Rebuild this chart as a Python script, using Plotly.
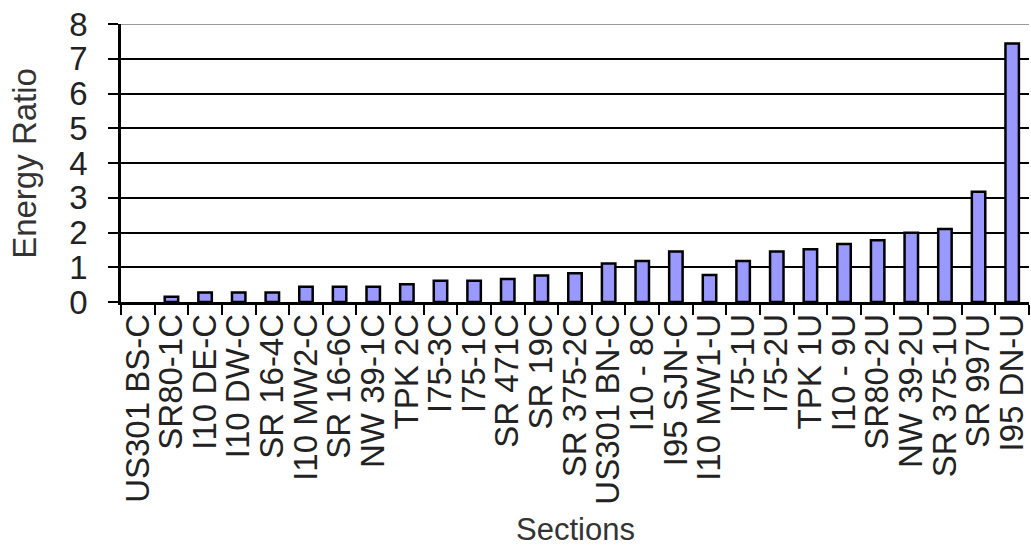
import plotly.graph_objects as go

# Section identifiers along the horizontal axis
sections = [
    "US301 BS-C", "SR80-1C", "I10 DE-C", "I10 DW-C", "SR 16-4C", "I10 MW2-C",
    "SR 16-6C", "NW 39-1C", "TPK 2C", "I75-3C", "I75-1C", "SR 471C", "SR 19C",
    "SR 375-2C", "US301 BN-C", "I10 - 8C", "I95 SJN-C", "I10 MW1-U", "I75-1U",
    "I75-2U", "TPK 1U", "I10 - 9U", "SR80-2U", "NW 39-2U", "SR 375-1U",
    "SR 997U", "I95 DN-U",
]

# Energy ratio per section
energy_ratio = [
    0.0, 0.15, 0.27, 0.27, 0.27, 0.44, 0.44, 0.44, 0.51, 0.61, 0.61, 0.66,
    0.76, 0.83, 1.11, 1.18, 1.45, 0.78, 1.18, 1.45, 1.52, 1.67, 1.78, 1.99,
    2.10, 3.17, 7.44,
]

y_ticks = [0, 1, 2, 3, 4, 5, 6, 7, 8]

FONT = "Liberation Sans, Arial, sans-serif"

# no outline for an empty (zero-height) bar
outline_widths = [2.5 if v > 0 else 0 for v in energy_ratio]

fig = go.Figure(
    go.Bar(
        x=sections,
        y=energy_ratio,
        width=0.4,
        marker=dict(color="#9999FF", line=dict(color="black", width=outline_widths)),
    )
)

fig.update_layout(
    width=1031,
    height=550,
    margin=dict(l=121, r=2, t=24, b=248),
    paper_bgcolor="white",
    plot_bgcolor="white",
    showlegend=False,
    font=dict(family=FONT, color="#222222"),
    annotations=[
        dict(
            text="Sections", xref="paper", yref="paper", x=0.5, y=-0.82,
            xanchor="center", yanchor="middle", showarrow=False,
            font=dict(size=31, family=FONT, color="#333333"),
        ),
        dict(
            text="Energy Ratio", xref="paper", yref="paper", x=-0.107, y=0.5,
            xanchor="center", yanchor="middle", textangle=-90, showarrow=False,
            font=dict(size=33, family=FONT, color="#333333"),
        ),
    ],
    shapes=[
        # lighter top border line at the axis maximum
        dict(type="line", xref="paper", yref="y", x0=0, x1=1, y0=8, y1=8,
             line=dict(color="#9a9a9a", width=2), layer="above"),
    ],
)

fig.update_xaxes(
    type="category",
    tickmode="linear", tick0=0, dtick=1,
    tickangle=-90,
    tickfont=dict(size=33, family=FONT, color="#222222"),
    showline=True, linecolor="black", linewidth=2.5,
    ticks="outside", ticklen=10, tickwidth=2, tickcolor="black",
    tickson="boundaries",
    ticklabelstandoff=-4,
    showgrid=False,
    range=[-0.5, 26.5],
)

fig.update_yaxes(
    range=[0, 8],
    tickvals=y_ticks,
    tickfont=dict(size=33, family=FONT, color="#222222"),
    showline=True, linecolor="black", linewidth=2.5,
    ticks="outside", ticklen=10, tickwidth=2, tickcolor="black",
    ticklabelstandoff=14,
    showgrid=True, gridcolor="black", gridwidth=2,
    zeroline=False,
)

fig.write_html("out.html")
